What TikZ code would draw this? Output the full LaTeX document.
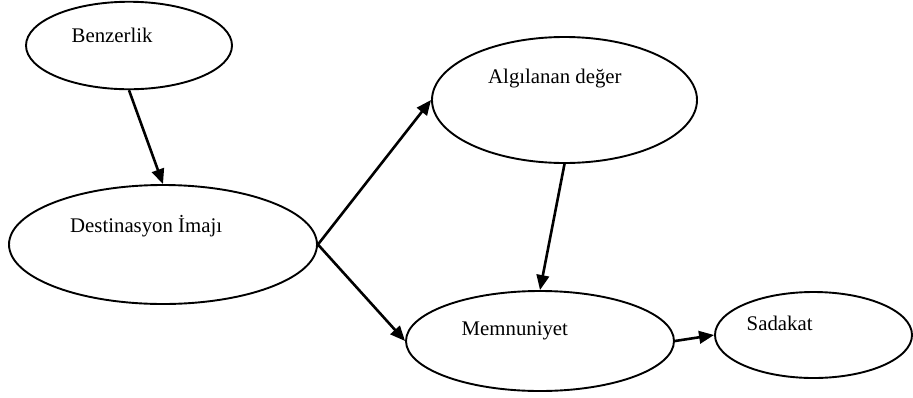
\documentclass[tikz,border=0pt]{standalone}
\usepackage{fontspec}
\setmainfont{Liberation Serif}
\usetikzlibrary{arrows.meta,shapes.geometric}
\begin{document}
\begin{tikzpicture}[x=1pt,y=-1pt,
  oval/.style={draw,ellipse,line width=1.9pt,inner sep=0pt},
  label/.style={anchor=base west,inner sep=0pt,font=\fontsize{20.8}{25}\selectfont},
  link/.style={line width=2.6pt,-{Triangle[length=15pt,width=12.5pt]}}]
\useasboundingbox (0,0) rectangle (913,397);
% ellipses
\node[oval,minimum width=206pt,minimum height=87.5pt] (ben) at (129,45.5) {};
\node[oval,minimum width=308pt,minimum height=119pt] (dest) at (163,244.5) {};
\node[oval,minimum width=265pt,minimum height=126pt] (alg) at (564.5,100) {};
\node[oval,minimum width=268pt,minimum height=100pt] (mem) at (540,341) {};
\node[oval,minimum width=197pt,minimum height=86pt] (sad) at (813.5,335) {};
% labels
\node[label] (tben) at (71.5,42.5) {Benzerlik};
\node[label] (tdest) at (70,232) {Destinasyon İmajı};
\node[label] (talg) at (488,83) {Algılanan değer};
\node[label] (tmem) at (461.5,335) {Memnuniyet};
\node[label] (tsad) at (746.5,330.5) {Sadakat};
% connectors
\draw[link] (ben.south) -- (dest.north);
\draw[link] (dest.east) -- (alg.west);
\draw[link] (dest.east) -- (mem.west);
\draw[link] (alg.south) -- (mem.north);
\draw[link] (mem.east) -- (sad.west);
\end{tikzpicture}
\end{document}
